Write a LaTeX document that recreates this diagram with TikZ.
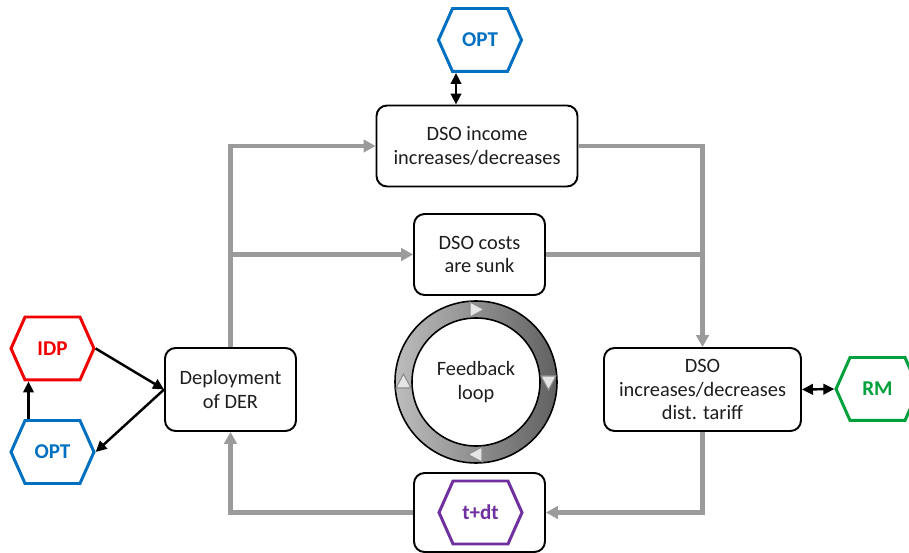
\documentclass[tikz,border=0pt]{standalone}
\usepackage{fontspec}
\setmainfont{Carlito}
\usetikzlibrary{arrows.meta,shapes.symbols,calc}
\definecolor{optInk}{RGB}{0,112,192}
\definecolor{idpInk}{RGB}{240,0,0}
\definecolor{rmInk}{RGB}{0,160,60}
\definecolor{tdtInk}{RGB}{112,48,160}
\definecolor{flowGray}{RGB}{155,155,155}
\definecolor{txtInk}{RGB}{30,30,30}

\begin{document}
\begin{tikzpicture}[
  x=0.02cm, y=-0.02cm,
  font=\fontsize{11.6}{13.3}\selectfont,
  box/.style  ={draw=black, line width=1.1pt, rounded corners=6pt, fill=white, align=center,
                minimum height=1.62cm, inner sep=2pt, text=txtInk},
  hexa/.style ={signal, signal to=east and west, signal pointer angle=132, draw, line width=1.7pt,
                fill=white, minimum width=1.66cm, minimum height=1.26cm, inner sep=0pt,
                font=\fontsize{12}{14}\selectfont\bfseries},
  flow/.style ={-{Triangle[length=2.4mm,width=2.5mm]}, line width=2.3pt, draw=flowGray},
  gline/.style={line width=2.3pt, draw=flowGray},
  link/.style ={-{Triangle[length=2.2mm,width=2.1mm]}, line width=1.4pt},
  both/.style ={{Triangle[length=2.2mm,width=2.1mm]}-{Triangle[length=2.2mm,width=2.1mm]}, line width=1.4pt},
  chev/.style ={fill=black!10, draw=black!45, line width=.6pt},
]
\useasboundingbox (0,0) rectangle (909,553);

% ============ MAIN BOXES ============
\node[box, minimum width=4.02cm] (income) at (477,146) {DSO income\\increases/decreases};
\node[box, minimum width=2.62cm] (costs)  at (479.5,254.5) {DSO costs\\are sunk};
\node[box, minimum width=2.62cm, minimum height=1.66cm] (deploy) at (230.5,389.5) {Deployment\\of DER};
\node[box, minimum width=3.94cm, minimum height=1.66cm] (tariff) at (702.5,389.5)
  {DSO\\increases/decreases\\dist. tariff};
\node[box, minimum width=2.62cm, minimum height=1.58cm] (tdt) at (479.5,512.5) {};
\node[hexa, draw=tdtInk, text=tdtInk] (tdtHex) at (480.5,512.5) {t+dt};

% ============ ACTORS ============
\node[hexa, draw=optInk, text=optInk] (optT) at (480,40)    {OPT};
\node[hexa, draw=idpInk, text=idpInk] (idp)  at (52.5,348.5) {IDP};
\node[hexa, draw=optInk, text=optInk] (optL) at (52.5,452)  {OPT};
\node[hexa, draw=rmInk,  text=rmInk]  (rm)   at (877.5,389) {RM};

% ============ FEEDBACK LOOP ============
\node[circle, minimum size=3.24cm, align=center, text=txtInk] (loop) at (476,382) {Feedback\\loop};
\shade[even odd rule, left color=black!26, right color=black!62]
  (loop.center) circle[radius=81] (loop.center) circle[radius=64];
\draw[line width=0.9pt] (loop.center) circle[radius=81] (loop.center) circle[radius=64];
\draw[chev] ($(loop.center)+(-6,-80)$) -- ($(loop.center)+(-6,-65)$) -- ($(loop.center)+(8,-72.5)$) -- cycle;
\draw[chev] ($(loop.center)+(80,-6)$) -- ($(loop.center)+(65,-6)$) -- ($(loop.center)+(72.5,8)$) -- cycle;
\draw[chev] ($(loop.center)+(6,80)$) -- ($(loop.center)+(6,65)$) -- ($(loop.center)+(-8,72.5)$) -- cycle;
\draw[chev] ($(loop.center)+(-80,6)$) -- ($(loop.center)+(-65,6)$) -- ($(loop.center)+(-72.5,-8)$) -- cycle;

% ============ GRAY FLOW ============
\draw[flow] (deploy.north) |- (income.west);
\draw[flow] (deploy.north |- costs.west) -- (costs.west);
\draw[flow] (income.east) -| (tariff.north);
\draw[gline] (costs.east) -- (costs.east -| tariff.north);
\draw[flow] (tariff.south) |- (tdt.east);
\draw[flow] (tdt.west) -| (deploy.south);

% ============ BLACK LINKS ============
\draw[link] (idp.east) -- (deploy.west);
\draw[link] (deploy.west) -- (optL.east);
\draw[link] ($(optL.north)+(-24,0)$) coordinate (optUp) -- (optUp |- idp.south);
\draw[both] ($(optT.south)+(-24,0)$) coordinate (optDn) -- (optDn |- income.north);
\draw[both] (tariff.east) -- (rm.west);

\end{tikzpicture}
\end{document}
